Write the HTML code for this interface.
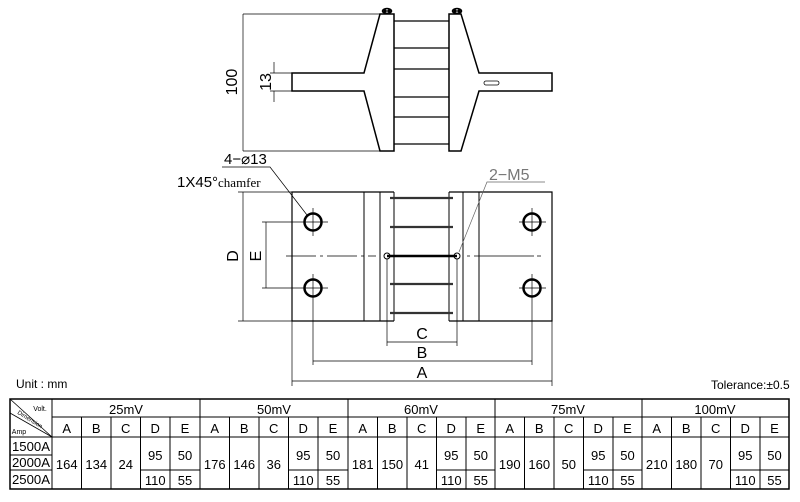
<!DOCTYPE html>
<html><head><meta charset="utf-8"><style>
html,body{margin:0;padding:0;background:#fff;}
svg{display:block;}
text{font-family:"Liberation Sans",sans-serif;fill:#000;}
</style></head><body>
<svg width="800" height="502" viewBox="0 0 800 502" xmlns="http://www.w3.org/2000/svg">
<g stroke="#000" fill="none" stroke-width="1">
<!-- TOP VIEW -->
<path d="M380,14 L364,73 L292,73 L292,91 L364,91 L380,151 L394,151 L394,14 Z" stroke-width="1.5"/>
<path d="M449,14 L461,14 L479,73 L552,73 L552,91 L479,91 L461,151 L449,151 Z" stroke-width="1.5"/>
<g stroke-width="1.3">
<line x1="394" y1="21" x2="449" y2="21"/><line x1="394" y1="48" x2="449" y2="48"/>
<line x1="394" y1="69" x2="449" y2="69"/><line x1="394" y1="97" x2="449" y2="97"/>
<line x1="394" y1="117" x2="449" y2="117"/><line x1="394" y1="144" x2="449" y2="144"/>
</g>
<ellipse cx="387" cy="11" rx="4.5" ry="2.5" stroke-width="1.5"/><ellipse cx="457" cy="11" rx="4.5" ry="2.5" stroke-width="1.5"/>
<circle cx="385" cy="11" r="1.3" fill="#000"/><circle cx="389" cy="11" r="1.3" fill="#000"/>
<circle cx="455" cy="11" r="1.3" fill="#000"/><circle cx="459" cy="11" r="1.3" fill="#000"/>
<rect x="484" y="81" width="15" height="4" rx="2" stroke-width="0.8"/>
<line x1="243" y1="14" x2="380" y2="14" stroke-width="0.7"/><line x1="243" y1="151" x2="380" y2="151" stroke-width="0.7"/>
<line x1="243" y1="14" x2="243" y2="151" stroke-width="0.7"/>
<line x1="270" y1="73" x2="292" y2="73" stroke-width="0.7"/><line x1="270" y1="91" x2="292" y2="91" stroke-width="0.7"/>
<line x1="274" y1="62" x2="274" y2="73" stroke-width="0.7"/><line x1="274" y1="91" x2="274" y2="102" stroke-width="0.7"/>

<!-- FRONT VIEW -->
<path d="M394,192 L292,192 L292,321 L394,321" stroke-width="1.2"/>
<path d="M449,192 L552,192 L552,321 L449,321" stroke-width="1.2"/>
<line x1="394" y1="192" x2="394" y2="321"/><line x1="449" y1="192" x2="449" y2="321"/>
<line x1="364" y1="192" x2="364" y2="321"/><line x1="380" y1="192" x2="380" y2="321"/>
<line x1="463" y1="192" x2="463" y2="321"/><line x1="479" y1="192" x2="479" y2="321"/>
<g stroke-width="2.2" stroke="#333">
<line x1="390" y1="198" x2="453" y2="198"/><line x1="390" y1="227" x2="453" y2="227"/>
<line x1="390" y1="284" x2="453" y2="284"/><line x1="390" y1="313" x2="453" y2="313"/>
</g>
<line x1="387" y1="256" x2="457" y2="256" stroke-width="2.5"/>
<circle cx="387" cy="256" r="3"/><circle cx="457" cy="256" r="3"/>
<line x1="286" y1="256" x2="376" y2="256" stroke-width="0.7" stroke-dasharray="30,4,3,4"/>
<line x1="467" y1="256" x2="558" y2="256" stroke-width="0.7" stroke-dasharray="3,4,60"/>
<g stroke-width="2.5">
<circle cx="313" cy="222" r="8.5"/><circle cx="313" cy="288" r="8.5"/>
<circle cx="532" cy="222" r="8.5"/><circle cx="532" cy="288" r="8.5"/>
</g>
<g stroke-width="0.7">
<line x1="300" y1="222" x2="328" y2="222"/><line x1="313" y1="208" x2="313" y2="236"/>
<line x1="300" y1="288" x2="328" y2="288"/><line x1="313" y1="274" x2="313" y2="365"/>
<line x1="519" y1="222" x2="546" y2="222"/><line x1="532" y1="208" x2="532" y2="236"/>
<line x1="519" y1="288" x2="546" y2="288"/><line x1="532" y1="274" x2="532" y2="365"/>
<line x1="262" y1="222" x2="300" y2="222"/><line x1="262" y1="288" x2="300" y2="288"/>
<line x1="266" y1="222" x2="266" y2="288"/>
<line x1="238" y1="192" x2="292" y2="192"/><line x1="238" y1="321" x2="292" y2="321"/>
<line x1="243" y1="192" x2="243" y2="321"/>
<line x1="387" y1="259" x2="387" y2="346"/><line x1="457" y1="259" x2="457" y2="346"/>
<line x1="387" y1="342" x2="457" y2="342"/>
<line x1="313" y1="361" x2="532" y2="361"/>
<line x1="292" y1="321" x2="292" y2="386"/><line x1="552" y1="321" x2="552" y2="386"/>
<line x1="292" y1="381" x2="552" y2="381"/>
<polyline points="222,167 270,167 307,215"/>
<polyline points="545,182 487,182 459,252" stroke="#666"/>
</g>
</g>
<g fill="#000">
<text x="237" y="82" font-size="16" text-anchor="middle" transform="rotate(-90 237 82)">100</text>
<text x="271" y="82" font-size="16" text-anchor="middle" transform="rotate(-90 271 82)">13</text>
<text x="238" y="256" font-size="16" text-anchor="middle" transform="rotate(-90 238 256)">D</text>
<text x="261" y="256" font-size="16" text-anchor="middle" transform="rotate(-90 261 256)">E</text>
<text x="422" y="339" font-size="16" text-anchor="middle">C</text>
<text x="422" y="358" font-size="16" text-anchor="middle">B</text>
<text x="422" y="378" font-size="16" text-anchor="middle">A</text>
<text x="224" y="164" font-size="15">4−⌀13</text>
<text x="177" y="187" font-size="15">1X45°<tspan font-size="13" style="font-family:'Liberation Serif',serif">chamfer</tspan></text>
<text x="489" y="180" font-size="16" style="fill:#777">2−M5</text>
<text x="16" y="388" font-size="12">Unit : mm</text>
<text x="711" y="389" font-size="12">Tolerance:±0.5</text>
</g>

<!-- TABLE -->
<g stroke="#000" stroke-width="1" fill="none">
<rect x="10" y="399" width="779" height="90" stroke-width="1.5"/>
<line x1="52" y1="417" x2="789" y2="417"/>
<line x1="10" y1="437" x2="789" y2="437"/>
<line x1="10" y1="455" x2="52" y2="455"/>
<line x1="10" y1="470" x2="52" y2="470"/>
<line x1="52" y1="399" x2="52" y2="489"/>
<line x1="10" y1="399" x2="52" y2="437" stroke-width="0.8"/>
<line x1="10" y1="413" x2="52" y2="437" stroke-width="0.8"/>
<line x1="200" y1="399" x2="200" y2="489"/><line x1="348" y1="399" x2="348" y2="489"/>
<line x1="495" y1="399" x2="495" y2="489"/><line x1="642" y1="399" x2="642" y2="489"/>
</g>
<g stroke="#000" stroke-width="1">
<line x1="81.5" y1="417" x2="81.5" y2="489"/><line x1="111" y1="417" x2="111" y2="489"/><line x1="140.5" y1="417" x2="140.5" y2="489"/><line x1="170" y1="417" x2="170" y2="489"/><line x1="140.5" y1="470" x2="200" y2="470"/>
<line x1="229.5" y1="417" x2="229.5" y2="489"/><line x1="259" y1="417" x2="259" y2="489"/><line x1="288.5" y1="417" x2="288.5" y2="489"/><line x1="318" y1="417" x2="318" y2="489"/><line x1="288.5" y1="470" x2="348" y2="470"/>
<line x1="377.5" y1="417" x2="377.5" y2="489"/><line x1="407" y1="417" x2="407" y2="489"/><line x1="436.5" y1="417" x2="436.5" y2="489"/><line x1="466" y1="417" x2="466" y2="489"/><line x1="436.5" y1="470" x2="495" y2="470"/>
<line x1="524.5" y1="417" x2="524.5" y2="489"/><line x1="554" y1="417" x2="554" y2="489"/><line x1="583.5" y1="417" x2="583.5" y2="489"/><line x1="613" y1="417" x2="613" y2="489"/><line x1="583.5" y1="470" x2="642" y2="470"/>
<line x1="671.5" y1="417" x2="671.5" y2="489"/><line x1="701" y1="417" x2="701" y2="489"/><line x1="730.5" y1="417" x2="730.5" y2="489"/><line x1="760" y1="417" x2="760" y2="489"/><line x1="730.5" y1="470" x2="789" y2="470"/>
</g>
<g font-size="13" text-anchor="middle">
<text x="31" y="451" textLength="38" lengthAdjust="spacingAndGlyphs">1500A</text><text x="31" y="467" textLength="38" lengthAdjust="spacingAndGlyphs">2000A</text><text x="31" y="484" textLength="38" lengthAdjust="spacingAndGlyphs">2500A</text>
<text x="40" y="411" font-size="7">Volt.</text><text x="19" y="434" font-size="7">Amp</text>
<text x="29" y="421" font-size="6" transform="rotate(32 29 421)">Dimension</text>

<text x="126" y="414">25mV</text><text x="274" y="414">50mV</text><text x="421" y="414">60mV</text><text x="568" y="414">75mV</text><text x="715" y="414">100mV</text>

<text x="66.75" y="433">A</text><text x="96.25" y="433">B</text><text x="125.75" y="433">C</text><text x="155.25" y="433">D</text><text x="185" y="433">E</text>
<text x="214.75" y="433">A</text><text x="244.25" y="433">B</text><text x="273.75" y="433">C</text><text x="303.25" y="433">D</text><text x="333" y="433">E</text>
<text x="362.75" y="433">A</text><text x="392.25" y="433">B</text><text x="421.75" y="433">C</text><text x="451.25" y="433">D</text><text x="480.75" y="433">E</text>
<text x="509.75" y="433">A</text><text x="539.25" y="433">B</text><text x="568.75" y="433">C</text><text x="598.25" y="433">D</text><text x="627.5" y="433">E</text>
<text x="656.75" y="433">A</text><text x="686.25" y="433">B</text><text x="715.75" y="433">C</text><text x="745.25" y="433">D</text><text x="774.5" y="433">E</text>

<text x="66.75" y="469">164</text><text x="96.25" y="469">134</text><text x="125.75" y="469">24</text><text x="155.25" y="460">95</text><text x="185" y="460">50</text><text x="155.25" y="485">110</text><text x="185" y="485">55</text>
<text x="214.75" y="469">176</text><text x="244.25" y="469">146</text><text x="273.75" y="469">36</text><text x="303.25" y="460">95</text><text x="333" y="460">50</text><text x="303.25" y="485">110</text><text x="333" y="485">55</text>
<text x="362.75" y="469">181</text><text x="392.25" y="469">150</text><text x="421.75" y="469">41</text><text x="451.25" y="460">95</text><text x="480.75" y="460">50</text><text x="451.25" y="485">110</text><text x="480.75" y="485">55</text>
<text x="509.75" y="469">190</text><text x="539.25" y="469">160</text><text x="568.75" y="469">50</text><text x="598.25" y="460">95</text><text x="627.5" y="460">50</text><text x="598.25" y="485">110</text><text x="627.5" y="485">55</text>
<text x="656.75" y="469">210</text><text x="686.25" y="469">180</text><text x="715.75" y="469">70</text><text x="745.25" y="460">95</text><text x="774.5" y="460">50</text><text x="745.25" y="485">110</text><text x="774.5" y="485">55</text>
</g>
</svg>
</body></html>
